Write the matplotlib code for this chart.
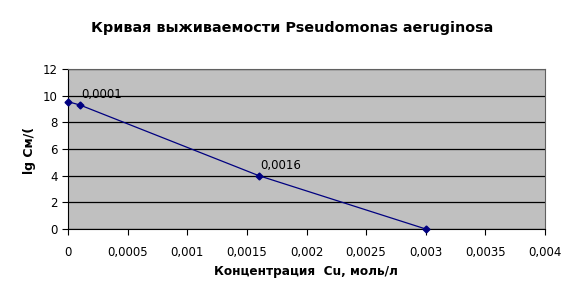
import numpy as np
import matplotlib
matplotlib.use('Agg')
import matplotlib.pyplot as plt

## data
conc = [0.0, 0.0001, 0.0016, 0.003]          # Cu, mol/l
lg_cfu = [9.55, 9.3, 4.0, 0.0]
labelled = [1, 2]                             # points with data labels
xticks = [0, 0.0005, 0.001, 0.0015, 0.002, 0.0025, 0.003, 0.0035, 0.004]
xticklabels = ['0', '0,0005', '0,001', '0,0015', '0,002', '0,0025', '0,003', '0,0035', '0,004']
yticks = [0, 2, 4, 6, 8, 10, 12]

plt.rcParams['font.family'] = ['DejaVu Sans']

fig = plt.figure(figsize=(5.82, 3.03), dpi=100)
fig.patch.set_facecolor('white')
ax = fig.add_axes([68/582, 1-229/303, (545-68)/582, (229-69)/303])
ax.set_facecolor('#c0c0c0')

ax.plot(conc, lg_cfu, color='#000080', lw=0.9, marker='D', ms=3.5,
        mfc='#000080', mec='#000080', zorder=3, clip_on=False)
for i in labelled:
    ax.annotate(f'{conc[i]:.4f}'.replace('.', ','), (conc[i], lg_cfu[i]),
                xytext=(1, 5), textcoords='offset points', fontsize=8.5,
                color='black')

ax.set_xlim(0, 0.004)
ax.set_ylim(0, 12)
ax.set_xticks(xticks)
ax.set_xticklabels(xticklabels)
ax.set_yticks(yticks)
ax.set_yticklabels([str(v) for v in yticks])
ax.yaxis.grid(True, color='black', lw=0.9)
ax.set_axisbelow(True)
ax.tick_params(axis='both', direction='out', length=4, width=0.8, labelsize=8.5, colors='black')
ax.tick_params(axis='x', pad=8)
for s in ax.spines.values():
    s.set_color('#606060')
    s.set_linewidth(0.8)
ax.spines['left'].set_color('black')
ax.spines['bottom'].set_color('black')

fig.text(292/582, 1-28/303, 'Кривая выживаемости Pseudomonas aeruginosa',
         ha='center', va='center', fontsize=10.4, fontweight='bold')
fig.text(306/582, 1-272/303, 'Концентрация  Cu, моль/л',
         ha='center', va='center', fontsize=8.7, fontweight='bold')
fig.text(30/582, 1-150/303, 'lg См/(', rotation=90,
         ha='center', va='center', fontsize=9, fontweight='bold')

fig.savefig('out.png', dpi=100)
